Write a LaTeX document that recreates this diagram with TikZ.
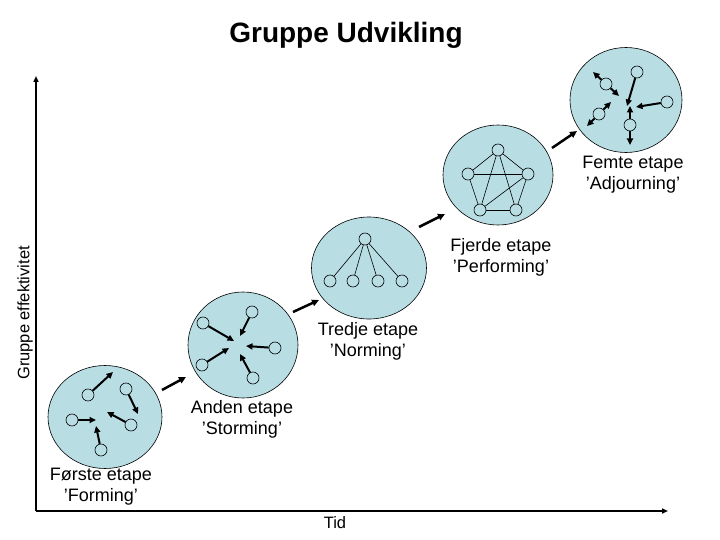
\documentclass[tikz,border=0pt]{standalone}
\usepackage{fontspec}
\setmainfont{Liberation Sans}
\usetikzlibrary{arrows.meta,shapes.geometric}
\definecolor{stagefill}{RGB}{184,222,228}
\begin{document}
\begin{tikzpicture}[x=1pt,y=-1pt,
  stage/.style={ellipse,draw=black,line width=0.6pt,fill=stagefill,inner sep=0pt},
  dot/.style={circle,draw=black,line width=0.6pt,minimum size=12pt,inner sep=0pt},
  move/.style={-{Triangle[length=6.5pt,width=6pt]},line width=2pt},
  link/.style={line width=0.6pt},
  flow/.style={-{Triangle[length=7pt,width=6.5pt]},line width=2.5pt},
  axis/.style={-{Triangle[length=6pt,width=5pt]},line width=2pt},
  lab/.style={align=center,font=\fontsize{18}{21}\selectfont},
  small/.style={font=\fontsize{16.5}{19}\selectfont}]

\useasboundingbox (0,0) rectangle (720,540);

% title
\node[font=\fontsize{28}{32}\selectfont\bfseries] (title) at (346,35) {Gruppe Udvikling};

% axes
\coordinate (O) at (36,511);
\coordinate (Ytop) at (36,76);
\coordinate (Xend) at (668,511);
\draw[axis] (O) -- (Ytop);
\draw[axis] (O) -- (Xend);
\node[small,rotate=90] (ylab) at (25,313) {Gruppe effektivitet};
\node[small] (xlab) at (335,523) {Tid};

% stages
\node[stage,minimum width=114pt,minimum height=103pt] (s1) at (105,417) {};
\node[stage,minimum width=110pt,minimum height=106pt] (s2) at (243,345) {};
\node[stage,minimum width=115pt,minimum height=102pt] (s3) at (369,268) {};
\node[stage,minimum width=110pt,minimum height=100pt] (s4) at (498,175) {};
\node[stage,minimum width=112pt,minimum height=105pt] (s5) at (626,100) {};

% stage 1: forming
\node[dot] (a1) at (88,395) {};  \coordinate (a1t) at (113,372);
\node[dot] (a2) at (126,389) {}; \coordinate (a2t) at (138,414);
\node[dot] (a3) at (72,420) {};  \coordinate (a3t) at (96,420);
\node[dot] (a4) at (131,425) {}; \coordinate (a4t) at (107,412);
\node[dot] (a5) at (101,450) {}; \coordinate (a5t) at (96,426);
\foreach \n in {a1,a2,a3,a4,a5} \draw[move] (\n) -- (\n t);

% stage 2: storming
\node[dot] (b1) at (203,323) {}; \coordinate (b1t) at (234,341);
\node[dot] (b2) at (252,312) {}; \coordinate (b2t) at (240,336);
\node[dot] (b3) at (275,348) {}; \coordinate (b3t) at (246,346);
\node[dot] (b4) at (202,365) {}; \coordinate (b4t) at (229,348);
\node[dot] (b5) at (253,378) {}; \coordinate (b5t) at (240,354);
\foreach \n in {b1,b2,b3,b4,b5} \draw[move] (\n) -- (\n t);

% stage 3: norming
\node[dot] (c0) at (365,239) {};
\node[dot] (c1) at (330,281) {};
\node[dot] (c2) at (353,281) {};
\node[dot] (c3) at (378,281) {};
\node[dot] (c4) at (402,281) {};
\foreach \n in {c1,c2,c3,c4} \draw[link] (c0) -- (\n);

% stage 4: performing
\node[dot] (d1) at (498,150) {};
\node[dot] (d2) at (468,174) {};
\node[dot] (d3) at (528,174) {};
\node[dot] (d4) at (480,210) {};
\node[dot] (d5) at (516,210) {};
\draw[link] (d1) -- (d2);
\draw[link] (d1) -- (d3);
\draw[link] (d1) -- (d4);
\draw[link] (d1) -- (d5);
\draw[link] (d2) -- (d3);
\draw[link] (d2) -- (d4);
\draw[link] (d3) -- (d5);
\draw[link] (d4) -- (d5);
\draw[link] (d3) -- (d4);

% stage 5: adjourning
\node[dot] (e1) at (606,84) {};
\coordinate (e1a) at (593,72); \coordinate (e1b) at (619,96);
\node[dot] (e2) at (637,72) {};  \coordinate (e2t) at (627,106);
\node[dot] (e3) at (667,102) {}; \coordinate (e3t) at (636,107);
\node[dot] (e4) at (599,114) {};
\coordinate (e4a) at (611,102); \coordinate (e4b) at (587,126);
\node[dot] (e5) at (630,125) {};
\coordinate (e5a) at (630,106); \coordinate (e5b) at (630,145);
\draw[move] (e1) -- (e1a);
\draw[move] (e1) -- (e1b);
\draw[move] (e2) -- (e2t);
\draw[move] (e3) -- (e3t);
\draw[move] (e4) -- (e4a);
\draw[move] (e4) -- (e4b);
\draw[move] (e5) -- (e5a);
\draw[move] (e5) -- (e5b);

% flow arrows between stages
\coordinate (f1a) at (162,390); \coordinate (f1b) at (186,377);
\coordinate (f2a) at (293,312); \coordinate (f2b) at (319,300);
\coordinate (f3a) at (419,227); \coordinate (f3b) at (445,214);
\coordinate (f4a) at (552,148); \coordinate (f4b) at (577,131);
\draw[flow] (f1a) -- (f1b);
\draw[flow] (f2a) -- (f2b);
\draw[flow] (f3a) -- (f3b);
\draw[flow] (f4a) -- (f4b);

% labels
\node[lab] (l1) at (101,487) {Første etape\\’Forming’};
\node[lab] (l2) at (242,419) {Anden etape\\’Storming’};
\node[lab] (l3) at (368,341) {Tredje etape\\’Norming’};
\node[lab] (l4) at (501,257) {Fjerde etape\\’Performing’};
\node[lab] (l5) at (633,175) {Femte etape\\’Adjourning’};
\end{tikzpicture}
\end{document}
